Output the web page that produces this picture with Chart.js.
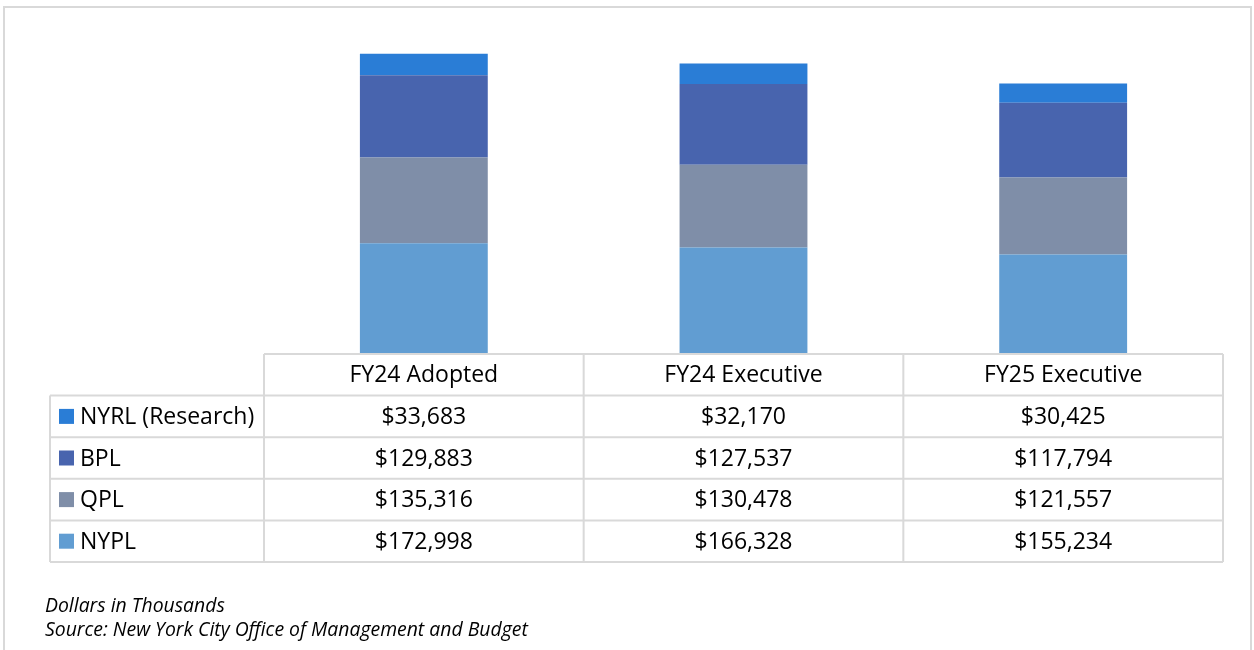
<!DOCTYPE html>
<html>
<head>
<meta charset="utf-8">
<script src="https://cdn.jsdelivr.net/npm/chart.js@4"></script>
<style>
  body { margin: 0; background: #fff; }
  #wrap { width: 1254px; height: 650px; position: relative; }
</style>
</head>
<body>
<div id="wrap"><canvas id="library-chart"></canvas></div>
<script>
const categories = ["FY24 Adopted", "FY24 Executive", "FY25 Executive"];
const seriesNames = ["NYPL", "QPL", "BPL", "NYRL (Research)"];
const nyplValues = [172998, 166328, 155234];
const qplValues = [135316, 130478, 121557];
const bplValues = [129883, 127537, 117794];
const nyrlValues = [33683, 32170, 30425];
const footNotes = ["Dollars in Thousands", "Source: New York City Office of Management and Budget"];

const colors = ["#619dd2", "#7f8ea8", "#4864ae", "#2a7dd6"];
const fontFamily = "'Open Sans', sans-serif";
const lineColor = "#d9d9d9";

// excel style data table under the bars
const dataTablePlugin = {
    id: "dataTable",
    afterDraw(chart) {
        const ctx = chart.ctx;
        const area = chart.chartArea;
        const x = chart.scales.x;
        const colW = x.getPixelForValue(1) - x.getPixelForValue(0);
        const left = area.left, right = area.right;
        const labelLeft = 50;
        const headTop = area.bottom + 1;
        const rowH = 41.6;
        const rows = chart.data.datasets.slice().reverse();

        ctx.save();
        ctx.strokeStyle = lineColor;
        ctx.lineWidth = 2;

        // outer frame
        ctx.strokeRect(4, 7, 1247, 700);

        ctx.beginPath();
        // header
        ctx.moveTo(left, headTop);
        ctx.lineTo(right, headTop);
        for (let r = 0; r <= rows.length; r++) {
            const yy = headTop + rowH * (r + 1);
            ctx.moveTo(labelLeft, yy);
            ctx.lineTo(right, yy);
        }
        const bottom = headTop + rowH * (rows.length + 1);
        ctx.moveTo(labelLeft, headTop + rowH);
        ctx.lineTo(labelLeft, bottom);
        for (let c = 0; c <= categories.length; c++) {
            const xx = left + colW * c;
            ctx.moveTo(xx, headTop);
            ctx.lineTo(xx, bottom);
        }
        ctx.stroke();

        ctx.fillStyle = "#000";
        ctx.font = "23px " + fontFamily;
        ctx.textBaseline = "middle";
        ctx.textAlign = "center";
        categories.forEach((c, i) => {
            ctx.fillText(c, x.getPixelForValue(i), headTop + rowH / 2 + 1);
        });

        rows.forEach((ds, r) => {
            const cy = headTop + rowH * (r + 1) + rowH / 2 + 1;
            ctx.fillStyle = ds.backgroundColor;
            ctx.fillRect(59, cy - 8.5, 15, 15);
            ctx.fillStyle = "#000";
            ctx.textAlign = "left";
            ctx.fillText(ds.label, 80, cy);
            ctx.textAlign = "center";
            ds.data.forEach((v, i) => {
                ctx.fillText("$" + v.toLocaleString("en-US"), x.getPixelForValue(i), cy);
            });
        });

        ctx.textAlign = "left";
        ctx.font = "italic 19.4px " + fontFamily;
        ctx.fillText(footNotes[0], 45, 606);
        ctx.fillText(footNotes[1], 45, 630);
        ctx.restore();
    }
};

let libraryChart = new Chart(document.getElementById("library-chart"), {
    type: "bar",
    data: {
        labels: categories,
        datasets: [
            { label: seriesNames[0], data: nyplValues, backgroundColor: colors[0] },
            { label: seriesNames[1], data: qplValues, backgroundColor: colors[1] },
            { label: seriesNames[2], data: bplValues, backgroundColor: colors[2] },
            { label: seriesNames[3], data: nyrlValues, backgroundColor: colors[3] },
        ],
    },
    options: {
        responsive: true,
        maintainAspectRatio: false,
        animation: false,
        layout: {
            padding: { left: 264, right: 31, top: 36, bottom: 297 },
        },
        datasets: {
            bar: {
                categoryPercentage: 1,
                barPercentage: 0.4,
                borderWidth: 0,
            },
        },
        scales: {
            x: { stacked: true, display: false },
            y: { stacked: true, display: false, min: 0, max: 500000 },
        },
        plugins: {
            legend: { display: false },
            tooltip: { enabled: false },
        },
    },
    plugins: [dataTablePlugin],
});
</script>
</body>
</html>
